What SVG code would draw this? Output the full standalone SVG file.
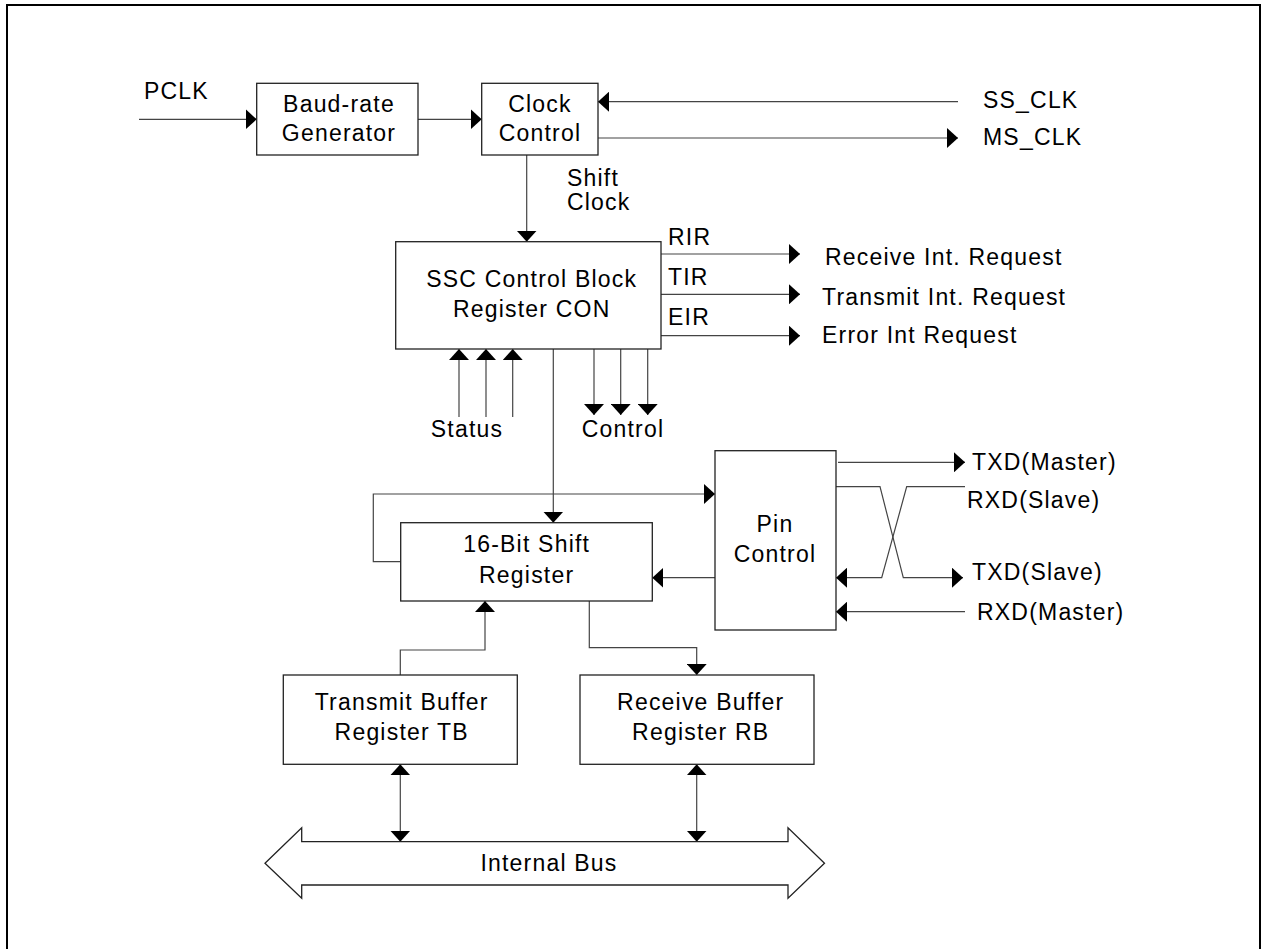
<svg xmlns="http://www.w3.org/2000/svg" width="1263" height="949" viewBox="0 0 1263 949">
<style>
.box{fill:#fff;stroke:#222;stroke-width:1.3}
.ln{fill:none;stroke:#444;stroke-width:1.2}
.t{font-family:"Liberation Sans",Arial,sans-serif;font-size:23px;letter-spacing:1.2px;fill:#000}
.c{text-anchor:middle}
</style>
<defs>
<marker id="ah" markerUnits="userSpaceOnUse" markerWidth="11" markerHeight="20" refX="11" refY="10" orient="auto-start-reverse"><path d="M0,0 L11,10 L0,20 z" fill="#000"/></marker>
</defs>
<rect x="0" y="0" width="1263" height="949" fill="#fff"/>
<rect x="7" y="5" width="1253" height="980" fill="none" stroke="#000" stroke-width="2"/>

<g id="connectors">
<line class="ln" x1="139" y1="119.3" x2="256.7" y2="119.3" marker-end="url(#ah)"/>
<line class="ln" x1="418" y1="119.3" x2="481.7" y2="119.3" marker-end="url(#ah)"/>
<line class="ln" x1="958" y1="101.7" x2="598" y2="101.7" marker-end="url(#ah)"/>
<line class="ln" x1="598" y1="138" x2="958" y2="138" marker-end="url(#ah)"/>
<line class="ln" x1="526.7" y1="155" x2="526.7" y2="241.7" marker-end="url(#ah)"/>
<line class="ln" x1="661" y1="254" x2="800" y2="254" marker-end="url(#ah)"/>
<line class="ln" x1="661" y1="294.3" x2="800" y2="294.3" marker-end="url(#ah)"/>
<line class="ln" x1="661" y1="335.7" x2="800" y2="335.7" marker-end="url(#ah)"/>
<line class="ln" x1="459" y1="417" x2="459" y2="349" marker-end="url(#ah)"/>
<line class="ln" x1="486" y1="417" x2="486" y2="349" marker-end="url(#ah)"/>
<line class="ln" x1="512.7" y1="417" x2="512.7" y2="349" marker-end="url(#ah)"/>
<line class="ln" x1="594" y1="349" x2="594" y2="415" marker-end="url(#ah)"/>
<line class="ln" x1="620.7" y1="349" x2="620.7" y2="415" marker-end="url(#ah)"/>
<line class="ln" x1="647.7" y1="349" x2="647.7" y2="415" marker-end="url(#ah)"/>
<line class="ln" x1="553.3" y1="349" x2="553.3" y2="522.7" marker-end="url(#ah)"/>
<polyline class="ln" points="400.7,561.7 373.3,561.7 373.3,494 715,494" marker-end="url(#ah)"/>
<line class="ln" x1="715" y1="577.7" x2="652.3" y2="577.7" marker-end="url(#ah)"/>
<line class="ln" x1="838" y1="462.3" x2="965" y2="462.3" marker-end="url(#ah)"/>
<polyline class="ln" points="836,486.7 880,486.7 903.3,577.7 963,577.7" marker-end="url(#ah)"/>
<polyline class="ln" points="965,486.7 906.7,486.7 881.7,577.7 836,577.7" marker-end="url(#ah)"/>
<line class="ln" x1="965" y1="611.7" x2="836" y2="611.7" marker-end="url(#ah)"/>
<polyline class="ln" points="400.3,675 400.3,650 485,650 485,601" marker-end="url(#ah)"/>
<polyline class="ln" points="589.3,601 589.3,647.7 696.7,647.7 696.7,675" marker-end="url(#ah)"/>
<line class="ln" x1="400.3" y1="764.3" x2="400.3" y2="841.7" marker-start="url(#ah)" marker-end="url(#ah)"/>
<line class="ln" x1="696.7" y1="764.3" x2="696.7" y2="841.7" marker-start="url(#ah)" marker-end="url(#ah)"/>
</g>

<g id="labels">
<text class="t" x="144" y="99">PCLK</text>
<text class="t" x="983" y="108">SS_CLK</text>
<text class="t" x="983" y="145">MS_CLK</text>
<text class="t" x="567" y="186">Shift</text>
<text class="t" x="567" y="210">Clock</text>
<text class="t" x="668" y="245">RIR</text>
<text class="t" x="668" y="285">TIR</text>
<text class="t" x="668" y="325">EIR</text>
<text class="t" x="825" y="265">Receive Int. Request</text>
<text class="t" x="822" y="305">Transmit Int. Request</text>
<text class="t" x="822" y="343">Error Int Request</text>
<text class="t c" x="467" y="437">Status</text>
<text class="t c" x="623" y="437">Control</text>
<text class="t" x="972" y="470">TXD(Master)</text>
<text class="t" x="967" y="508">RXD(Slave)</text>
<text class="t" x="972" y="580">TXD(Slave)</text>
<text class="t" x="977" y="620">RXD(Master)</text>
</g>

<g id="baud">
<rect class="box" x="256.7" y="83.3" width="161.3" height="71.7"/>
<text class="t c" x="339" y="112">Baud-rate</text>
<text class="t c" x="339" y="141">Generator</text>
</g>
<g id="clockctl">
<rect class="box" x="481.7" y="83.3" width="116.3" height="71.7"/>
<text class="t c" x="540" y="112">Clock</text>
<text class="t c" x="540" y="141">Control</text>
</g>
<g id="ssc">
<rect class="box" x="395.7" y="241.7" width="265.3" height="107.3"/>
<text class="t c" x="531.7" y="287">SSC Control Block</text>
<text class="t c" x="531.7" y="317">Register CON</text>
</g>
<g id="shift">
<rect class="box" x="400.7" y="522.7" width="251.6" height="78.3"/>
<text class="t c" x="526.7" y="552">16-Bit Shift</text>
<text class="t c" x="526.7" y="583">Register</text>
</g>
<g id="pin">
<rect class="box" x="715" y="450.7" width="121" height="179.3"/>
<text class="t c" x="775" y="532">Pin</text>
<text class="t c" x="775" y="562">Control</text>
</g>
<g id="tb">
<rect class="box" x="283.3" y="675" width="234" height="89.3"/>
<text class="t c" x="401.7" y="710">Transmit Buffer</text>
<text class="t c" x="401.7" y="740">Register TB</text>
</g>
<g id="rb">
<rect class="box" x="580" y="675" width="234" height="89.3"/>
<text class="t c" x="700.7" y="710">Receive Buffer</text>
<text class="t c" x="700.7" y="740">Register RB</text>
</g>
<g id="bus">
<polygon class="box" points="265,863.3 301.7,827.7 301.7,841.7 788,841.7 788,827.7 824.5,863.3 788,898.3 788,885 301.7,885 301.7,898.3"/>
<text class="t c" x="549" y="871">Internal Bus</text>
</g>
</svg>
